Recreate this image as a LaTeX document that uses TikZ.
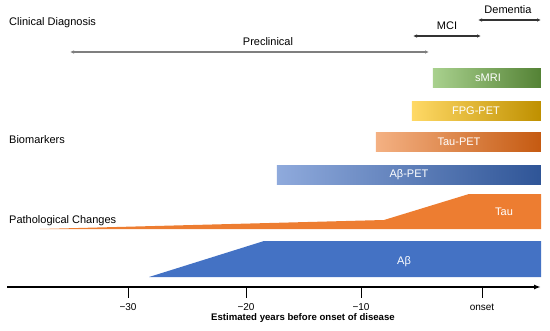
\documentclass[tikz,border=0pt]{standalone}
\usepackage{fontspec}
\setmainfont{Liberation Sans}
\usetikzlibrary{arrows.meta,positioning}
\definecolor{mriL}{HTML}{A9D18E}
\definecolor{mriR}{HTML}{548235}
\definecolor{fpgL}{HTML}{FFD966}
\definecolor{fpgR}{HTML}{BF9000}
\definecolor{tpetL}{HTML}{F4B183}
\definecolor{tpetR}{HTML}{C55A11}
\definecolor{apetL}{HTML}{8FAADC}
\definecolor{apetR}{HTML}{2F5597}
\definecolor{tauC}{HTML}{ED7D31}
\definecolor{abC}{HTML}{4472C4}
\definecolor{lineG}{HTML}{7F7F7F}
\tikzset{
  heading/.style={anchor=west,inner sep=0pt,font=\fontsize{11pt}{13pt}\selectfont},
  stagelbl/.style={inner sep=0pt,font=\fontsize{11pt}{13pt}\selectfont},
  bar/.style={anchor=east,minimum height=19pt,inner sep=0pt,text=white,font=\fontsize{11pt}{13pt}\selectfont},
  stagespan/.style={{Latex[length=4pt,width=3.5pt]}-{Latex[length=4pt,width=3.5pt]},line width=1.2pt},
  axisline/.style={-{Latex[length=7pt,width=5pt]},line width=1.4pt},
  ticklbl/.style={inner sep=0pt,font=\fontsize{10pt}{12pt}\selectfont}
}

\begin{document}
\begin{tikzpicture}[x=1pt,y=-1pt]
\useasboundingbox (0,0) rectangle (550,330);

\node[heading] (clin) at (9,23) {Clinical Diagnosis};
\node[heading] (bio) at (9,140) {Biomarkers};
\node[heading] (path) at (9,221) {Pathological Changes};

% clinical stages
\coordinate (pre1) at (70,52);
\coordinate (pre2) at (429,52);
\coordinate (mci1) at (413,36);
\coordinate (mci2) at (481,36);
\coordinate (dem1) at (478,20);
\coordinate (dem2) at (541,20);
\draw[stagespan,draw=lineG] (pre1) -- (pre2);
\draw[stagespan,draw=black!80] (mci1) -- (mci2);
\draw[stagespan,draw=black!80] (dem1) -- (dem2);
\node[stagelbl] (prelbl) at (268,42) {Preclinical};
\node[stagelbl] (mcilbl) at (447,26) {MCI};
\node[stagelbl] (demlbl) at (508,10) {Dementia};

% biomarkers
\node[bar,minimum width=108pt,left color=mriL,right color=mriR] (smri) at (541,77.5) {};
\node[bar,minimum width=129pt,left color=fpgL,right color=fpgR] (fpg) at (541,110.5) {};
\node[bar,minimum width=165pt,left color=tpetL,right color=tpetR] (taupet) at (541,142) {};
\node[bar,minimum width=264pt,left color=apetL,right color=apetR] (abpet) at (541,174.5) {};
\node[text=white,stagelbl] at (488,77.5) {sMRI};
\node[text=white,stagelbl] at (476,110.5) {FPG-PET};
\node[text=white,stagelbl] at (459,142) {Tau-PET};
\node[text=white,stagelbl] at (409,174.5) {Aβ-PET};

% pathological changes
\fill[tauC] (40,229) -- (384,220) -- (469,194) -- (541,194) -- (541,229) -- cycle;
\fill[abC] (149,277) -- (264,241) -- (541,241) -- (541,277) -- cycle;
\node[text=white,stagelbl] (tau) at (504,212) {Tau};
\node[text=white,stagelbl] (ab) at (404,262) {Aβ};

% time axis
\coordinate (ax1) at (7,287);
\coordinate (ax2) at (541,287);
\draw[axisline] (ax1) -- (ax2);
\foreach \x/\t in {128/−30,246/−20,361/−10,482/onset}{
  \draw[line width=0.8pt] (\x,287) -- (\x,298);
  \node[ticklbl] at (\x,307) {\t};
}
\node[font=\bfseries\fontsize{9.6pt}{11pt}\selectfont,inner sep=0pt] (title) at (303,318) {Estimated years before onset of disease};

\end{tikzpicture}
\end{document}
